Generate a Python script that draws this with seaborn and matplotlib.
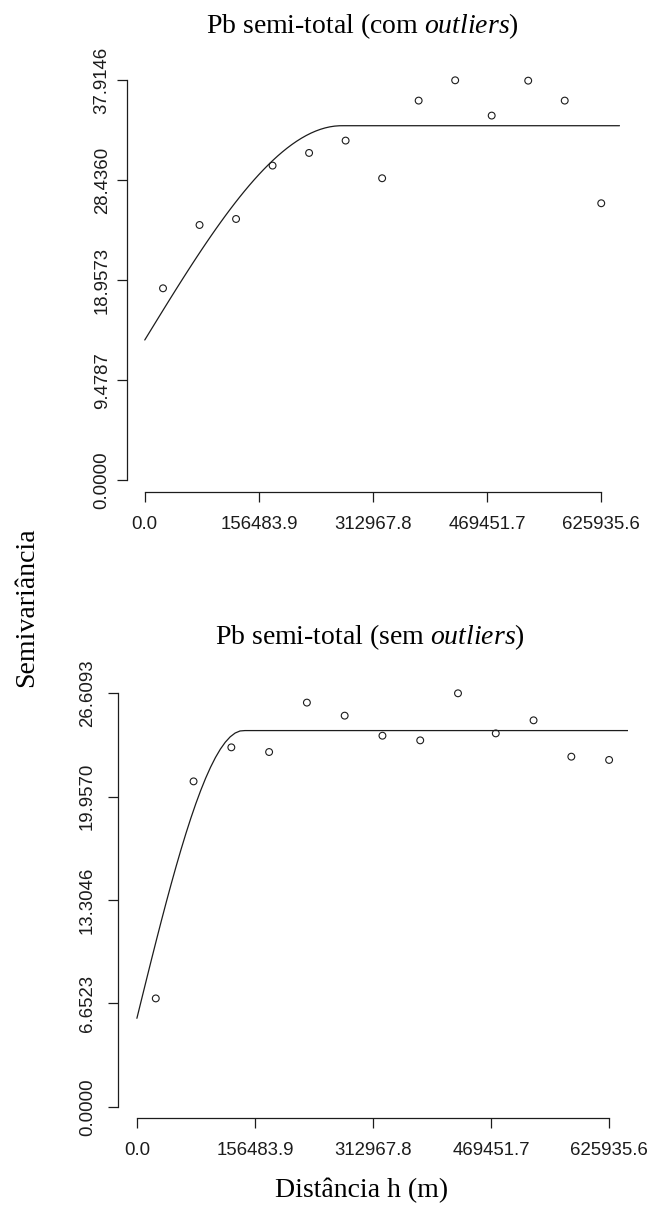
import numpy as np
import pandas as pd
import matplotlib
matplotlib.use("Agg")
import matplotlib.pyplot as plt
import seaborn as sns

# Lag distances (bin centres, m)
lags = [25037, 75112, 125187, 175262, 225337, 275412, 325487,
        375561, 425636, 475711, 525786, 575861, 625936]

# Empirical semivariance, Pb semi-total with outliers
gamma_com = [18.20, 24.20, 24.77, 29.83, 31.03, 32.20, 28.63,
             35.99, 37.9146, 34.57, 37.88, 35.99, 26.26]

# Empirical semivariance, Pb semi-total without outliers
gamma_sem = [6.97, 20.94, 23.13, 22.83, 26.01, 25.17, 23.88,
             23.58, 26.6093, 24.03, 24.87, 22.53, 22.32]

# Fitted spherical models: nugget, sill, range (m)
model_com = {"nugget": 13.30, "sill": 33.61, "rng": 270000}
model_sem = {"nugget": 5.69, "sill": 24.21, "rng": 141000}

x_tick_labels = ["0.0", "156483.9", "312967.8", "469451.7", "625935.6"]
y_tick_labels_com = ["0.0000", "9.4787", "18.9573", "28.4360", "37.9146"]
y_tick_labels_sem = ["0.0000", "6.6523", "13.3046", "19.9570", "26.6093"]

title_com = r"Pb semi-total (com $\mathit{outliers}$)"
title_sem = r"Pb semi-total (sem $\mathit{outliers}$)"
y_label = "Semivariância"
x_label = "Distância h (m)"


def spherical(h, nugget, sill, rng):
    h = np.asarray(h, dtype=float)
    r = np.clip(h / rng, 0, 1)
    return nugget + (sill - nugget) * (1.5 * r - 0.5 * r ** 3)


sns.set_style("ticks")
plt.rcParams["font.family"] = ["Liberation Sans", "DejaVu Sans"]
plt.rcParams["mathtext.fontset"] = "custom"
plt.rcParams["mathtext.rm"] = "Liberation Serif"
plt.rcParams["mathtext.it"] = "Liberation Serif:italic"

W, H = 649, 1212
fig = plt.figure(figsize=(W / 100, H / 100), dpi=100)
INK = "#1c1c1c"


def add_axes_px(left, top, right, bottom):
    return fig.add_axes([left / W, 1 - bottom / H, (right - left) / W, (bottom - top) / H])


def draw_panel(ax, gamma, model, ytl, yspan_px, gap_bottom_px, gap_top_px, ypad):
    xmax = float(x_tick_labels[-1])
    ymax = float(ytl[-1])
    per_px = ymax / yspan_px
    xlim = (-0.04 * xmax, 1.04 * xmax)
    ax.set_xlim(*xlim)
    ax.set_ylim(-gap_bottom_px * per_px, ymax + gap_top_px * per_px)

    h = np.linspace(0, xlim[1], 101)
    curve = pd.DataFrame({"h": h, "g": spherical(h, **model)})
    sns.lineplot(data=curve, x="h", y="g", ax=ax, color=INK, lw=0.9,
                 estimator=None, sort=False)

    pts = pd.DataFrame({"lag": lags, "gamma": gamma})
    sns.scatterplot(data=pts, x="lag", y="gamma", ax=ax, marker="o",
                    facecolor="none", edgecolor=INK, s=24, linewidth=0.8)

    ax.set_xticks([float(t) for t in x_tick_labels])
    ax.set_xticklabels(x_tick_labels)
    ax.set_yticks([float(t) for t in ytl])
    ax.set_yticklabels(ytl)
    ax.set_xlabel("")
    ax.set_ylabel("")

    for side in ("top", "right"):
        ax.spines[side].set_visible(False)
    ax.spines["left"].set_bounds(0, ymax)
    ax.spines["bottom"].set_bounds(0, xmax)
    for side in ("left", "bottom"):
        ax.spines[side].set_color(INK)
        ax.spines[side].set_linewidth(0.9)

    ax.tick_params(axis="both", direction="out", length=7.2, width=0.9,
                   color=INK, labelsize=13.4, labelcolor=INK)
    ax.tick_params(axis="x", pad=10)
    ax.tick_params(axis="y", pad=ypad, labelrotation=90)
    for lab in ax.get_yticklabels():
        lab.set_va("center")
    ax.set_facecolor("white")


ax_top = add_axes_px(126.5, 64.3, 619.5, 492.3)
draw_panel(ax_top, gamma_com, model_com, y_tick_labels_com, 400.0, 12.0, 16.0, 4.2)

ax_bot = add_axes_px(118.0, 676.7, 628.0, 1118.3)
draw_panel(ax_bot, gamma_sem, model_sem, y_tick_labels_sem, 413.4, 11.6, 16.6, 8.6)

serif = ["Liberation Serif", "DejaVu Serif"]
fig.text(362 / W, 1 - 33.3 / H, title_com, ha="center", va="baseline",
         fontsize=20, family=serif, color="black")
fig.text(370 / W, 1 - 644 / H, title_sem, ha="center", va="baseline",
         fontsize=20, family=serif, color="black")
fig.text(27 / W, 1 - 607 / H, y_label, ha="center", va="center", rotation=90,
         fontsize=20, family=serif, color="black")
fig.text(362 / W, 1 - 1197 / H, x_label, ha="center", va="baseline",
         fontsize=20, family=serif, color="black")

fig.savefig("out.png", dpi=100, facecolor="white")
